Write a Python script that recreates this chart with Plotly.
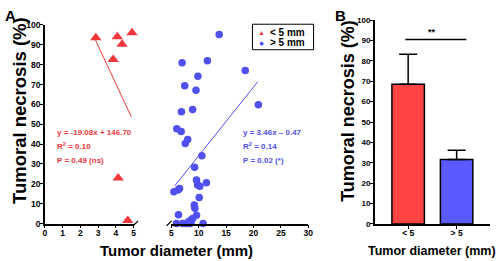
import plotly.graph_objects as go

# ---------------- data ----------------
small_x = [2.87, 4.08, 4.35, 4.91, 3.85, 4.13, 4.67]
small_y = [93.5, 94.0, 90.3, 96.0, 82.6, 22.9, 1.6]

large_x = [13.74, 6.97, 11.59, 18.49, 9.85, 7.45, 9.5, 8.89, 6.85, 20.88,
           6.0, 6.8, 7.99, 7.55, 10.58, 9.25, 9.6, 11.4, 9.8, 10.2,
           6.5, 6.25, 5.47, 10.09, 9.19, 9.3, 6.31, 9.6, 8.89, 8.65,
           5.95, 7.09, 7.7, 8.4, 10.8, 8.2, 7.87, 8.6]
large_y = [95.2, 81.0, 82.0, 77.0, 74.2, 69.4, 67.1, 57.4, 56.3, 59.8,
           47.7, 46.3, 42.3, 40.3, 34.2, 28.4, 21.9, 20.6, 19.4, 18.8,
           17.7, 16.9, 16.0, 13.1, 9.3, 7.7, 4.5, 4.2, 2.6, 1.9,
           0.0, 0.0, 0.0, 0.0, 0.0, 1.0, 0.0, 0.5]

small_fit_x = [2.85, 4.87]
small_slope, small_icpt = -19.08, 146.70
large_fit_x = [5.6, 20.8]
large_slope, large_icpt = 3.46, -0.47

bar_cats = ["< 5", "> 5"]
bar_means = [68.5, 31.6]
bar_sem = [14.8, 4.6]

yticks = [0, 10, 20, 30, 40, 50, 60, 70, 80, 90, 100]
xticks_left = [0, 1, 2, 3, 4, 5]
xticks_right = [5, 10, 15, 20, 25, 30]
legend_labels = ["< 5 mm", "> 5 mm"]

RED = "#F0383C"
BLUE = "#5050F0"
RED_BAR = "#FF4444"
BLUE_BAR = "#5A5AFF"
FONT = "Liberation Sans, Arial, sans-serif"

W, H = 500, 261
def px(x):
    return x / W
def py(y):
    return (H - y) / H

fig = go.Figure()

# Panel A scatter
fig.add_trace(go.Scatter(x=small_x, y=small_y, mode="markers", name=legend_labels[0],
                         marker=dict(symbol="triangle-up", size=10, color=RED),
                         xaxis="x", yaxis="y", cliponaxis=False, showlegend=False))
fig.add_trace(go.Scatter(x=large_x, y=large_y, mode="markers", name=legend_labels[1],
                         marker=dict(symbol="circle", size=7.5, color=BLUE),
                         xaxis="x2", yaxis="y", cliponaxis=False, showlegend=False))
# fits
fig.add_trace(go.Scatter(x=small_fit_x, y=[small_slope * v + small_icpt for v in small_fit_x],
                         mode="lines", line=dict(color=RED, width=1), showlegend=False,
                         xaxis="x", yaxis="y"))
fig.add_trace(go.Scatter(x=large_fit_x, y=[large_slope * v + large_icpt for v in large_fit_x],
                         mode="lines", line=dict(color=BLUE, width=1), showlegend=False,
                         xaxis="x2", yaxis="y"))

# Panel B bars
fig.add_trace(go.Bar(x=bar_cats, y=bar_means, showlegend=False, width=0.67,
                     marker=dict(color=[RED_BAR, BLUE_BAR], line=dict(color="black", width=1.5)),
                     error_y=dict(type="data", symmetric=False, array=bar_sem, arrayminus=[0, 0],
                                  color="black", thickness=1.5, width=9),
                     xaxis="x3", yaxis="y2"))

tickfont = dict(family=FONT, size=8.5, color="black", weight="bold")
tickfontB = dict(family=FONT, size=8, color="black", weight="bold")
axcommon = dict(showline=True, linecolor="black", linewidth=1.5, ticks="outside",
                ticklen=3, tickwidth=1.2, tickcolor="black", showgrid=False, zeroline=False)

fig.update_layout(
    width=W, height=H,
    margin=dict(l=0, r=0, t=0, b=0),
    paper_bgcolor="white", plot_bgcolor="rgba(0,0,0,0)",
    xaxis=dict(domain=[px(43.5), px(133.5)], range=[0, 5], tickvals=xticks_left,
               anchor="y", tickfont=tickfont, ticklabelstandoff=-3, **axcommon),
    xaxis2=dict(domain=[px(171.7), px(310.7)], range=[5, 30], tickvals=xticks_right,
                anchor="y", tickfont=tickfont, ticklabelstandoff=-3, **axcommon),
    yaxis=dict(domain=[py(227.3), py(20.7)], range=[0, 100], tickvals=yticks,
               anchor="x", tickfont=tickfont, ticklabelstandoff=-2, **axcommon),
    xaxis3=dict(domain=[px(378), px(495)], range=[-0.69, 1.69], type="category",
                anchor="y2", tickfont=dict(family=FONT, size=8.5, color="black", weight="bold"),
                ticklabelstandoff=-3, **axcommon),
    yaxis2=dict(domain=[py(227.7), py(15.7)], range=[0, 100], tickvals=yticks,
                anchor="x3", tickfont=tickfontB, ticklabelstandoff=-2, **axcommon),
    showlegend=False,
    bargap=0.3,
)

ann = []
def A(x, y, text, size, color="black", xanchor="center", yanchor="middle", angle=0):
    ann.append(dict(x=px(x), y=py(y), xref="paper", yref="paper", text=text, showarrow=False,
                    xanchor=xanchor, yanchor=yanchor, textangle=angle, borderpad=0,
                    font=dict(family=FONT, size=size, color=color, weight="bold")))

A(9, 11, "A", 15)
A(343, 11, "B", 15)
A(18.5, 110, "Tumoral necrosis (%)", 18.5, angle=-90)
A(177, 255, "Tumor diameter (mm)", 15)
A(351, 110, "Tumoral necrosis (%)", 18, angle=-90)
A(436, 255.5, "Tumor diameter (mm)", 12.5)
A(55, 133, "y = -19.08x + 146.70", 8, RED, xanchor="left")
A(55, 147, "R<sup>2</sup> = 0.10", 8, RED, xanchor="left")
A(55, 162, "P = 0.49 (ns)", 8, RED, xanchor="left")
A(243, 133, "y = 3.46x \u2013 0.47", 8, BLUE, xanchor="left")
A(243, 147, "R<sup>2</sup> = 0.14", 8, BLUE, xanchor="left")
A(243, 162, "P = 0.02 (*)", 8, BLUE, xanchor="left")
A(436, 28, "**", 9)
# legend (manual, compact)
A(263, 28.5, "\u25B2", 7, RED)
A(263, 39.5, "\u25CF", 8.5, BLUE)
A(271, 28.5, legend_labels[0], 10, xanchor="left")
A(271, 39.5, legend_labels[1], 10, xanchor="left")
fig.update_layout(annotations=ann)

shapes = [
    # legend box
    dict(type="rect", xref="paper", yref="paper", x0=px(254), x1=px(316), y0=py(46.5), y1=py(20),
         line=dict(color="black", width=1), fillcolor="white", layer="below"),
    # significance line
    dict(type="line", xref="paper", yref="paper", x0=px(409), x1=px(471), y0=py(36), y1=py(36),
         line=dict(color="black", width=1.5)),
    # axis break marks
    dict(type="line", xref="paper", yref="paper", x0=px(133), x1=px(138), y0=py(229.5), y1=py(224.5),
         line=dict(color="black", width=1.2)),
    dict(type="line", xref="paper", yref="paper", x0=px(167), x1=px(172), y0=py(229.5), y1=py(224.5),
         line=dict(color="black", width=1.2)),
]
fig.update_layout(shapes=shapes)

fig.write_html("out.html", config={"displayModeBar": False},
               post_script="document.body.style.margin='0';document.body.style.padding='0';")
